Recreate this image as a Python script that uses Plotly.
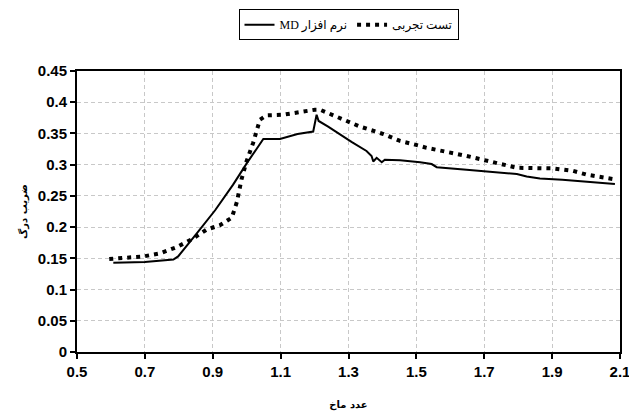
import plotly.graph_objects as go

# Mach number vs drag coefficient
md_mach = [0.607, 0.70, 0.784, 0.798, 0.85, 0.907, 0.96, 1.0, 1.049, 1.098, 1.15, 1.196,
           1.206, 1.212, 1.24, 1.275, 1.31, 1.353, 1.368, 1.373, 1.383, 1.398, 1.407,
           1.452, 1.491, 1.511, 1.545, 1.560, 1.648, 1.72, 1.796, 1.825, 1.864, 1.93,
           2.002, 2.085]
md_cd = [0.143, 0.144, 0.148, 0.153, 0.188, 0.227, 0.268, 0.302, 0.341, 0.341, 0.349,
         0.353, 0.380, 0.370, 0.361, 0.348, 0.336, 0.322, 0.314, 0.305, 0.311, 0.304,
         0.308, 0.307, 0.305, 0.304, 0.301, 0.296, 0.292, 0.289, 0.285, 0.281, 0.278,
         0.276, 0.273, 0.269]

exp_mach = [0.595, 0.695, 0.745, 0.794, 0.843, 0.882, 0.921, 0.956, 0.971, 0.985, 1.0,
            1.019, 1.039, 1.059, 1.108, 1.157, 1.201, 1.216, 1.275, 1.334, 1.403, 1.452,
            1.511, 1.530, 1.648, 1.746, 1.796, 1.904, 1.962, 2.002, 2.090]
exp_cd = [0.149, 0.153, 0.158, 0.168, 0.182, 0.196, 0.203, 0.215, 0.240, 0.277, 0.306,
          0.335, 0.372, 0.379, 0.380, 0.385, 0.388, 0.388, 0.374, 0.361, 0.349, 0.338,
          0.330, 0.327, 0.314, 0.301, 0.295, 0.294, 0.290, 0.284, 0.276]

x_ticks = [0.5, 0.7, 0.9, 1.1, 1.3, 1.5, 1.7, 1.9, 2.1]
x_tick_text = ["0.5", "0.7", "0.9", "1.1", "1.3", "1.5", "1.7", "1.9", "2.1"]
y_ticks = [0, 0.05, 0.1, 0.15, 0.2, 0.25, 0.3, 0.35, 0.4, 0.45]
y_tick_text = ["0", "0.05", "0.1", "0.15", "0.2", "0.25", "0.3", "0.35", "0.4", "0.45"]

tick_font = dict(family="Liberation Sans Narrow, Arial Narrow, Liberation Sans, Arial",
                 size=15, color="black", weight="bold")
title_font = dict(family="DejaVu Sans", size=10, color="black", weight="bold")

fig = go.Figure()
fig.add_trace(go.Scatter(
    x=md_mach, y=md_cd, mode="lines", name="MD نرم افزار",
    line=dict(color="black", width=2),
))
fig.add_trace(go.Scatter(
    x=exp_mach, y=exp_cd, mode="lines", name="تست تجربی",
    line=dict(color="black", width=4, dash="4px,5px"),
))

axis_common = dict(
    showline=True, linecolor="black", linewidth=2, mirror=True,
    ticks="outside", ticklen=5, tickwidth=1.5, tickcolor="black",
    showgrid=True, gridcolor="#c8c8c8", gridwidth=1, griddash="4px,3px",
    zeroline=False, tickfont=tick_font, automargin=False,
    ticklabeloverflow="allow",
)

fig.update_xaxes(
    range=[0.5, 2.1], tickvals=x_ticks, ticktext=x_tick_text,
    title=dict(text="عدد ماخ", font=title_font, standoff=22),
    **axis_common,
)
fig.update_yaxes(
    range=[0, 0.45], tickvals=y_ticks, ticktext=y_tick_text,
    title=dict(text="ضریب درگ", font=title_font, standoff=8),
    **axis_common,
)

fig.update_layout(
    width=629, height=411,
    margin=dict(l=77, r=9, t=67, b=59),
    paper_bgcolor="white", plot_bgcolor="white",
    showlegend=True,
    legend=dict(
        orientation="h", x=0.5, xanchor="center", y=1.165, yanchor="middle",
        bordercolor="black", borderwidth=1, bgcolor="white",
        font=dict(family="Liberation Serif, DejaVu Sans", size=12, color="black"),
        tracegroupgap=0,
    ),
)

fig.write_html("out.html")
